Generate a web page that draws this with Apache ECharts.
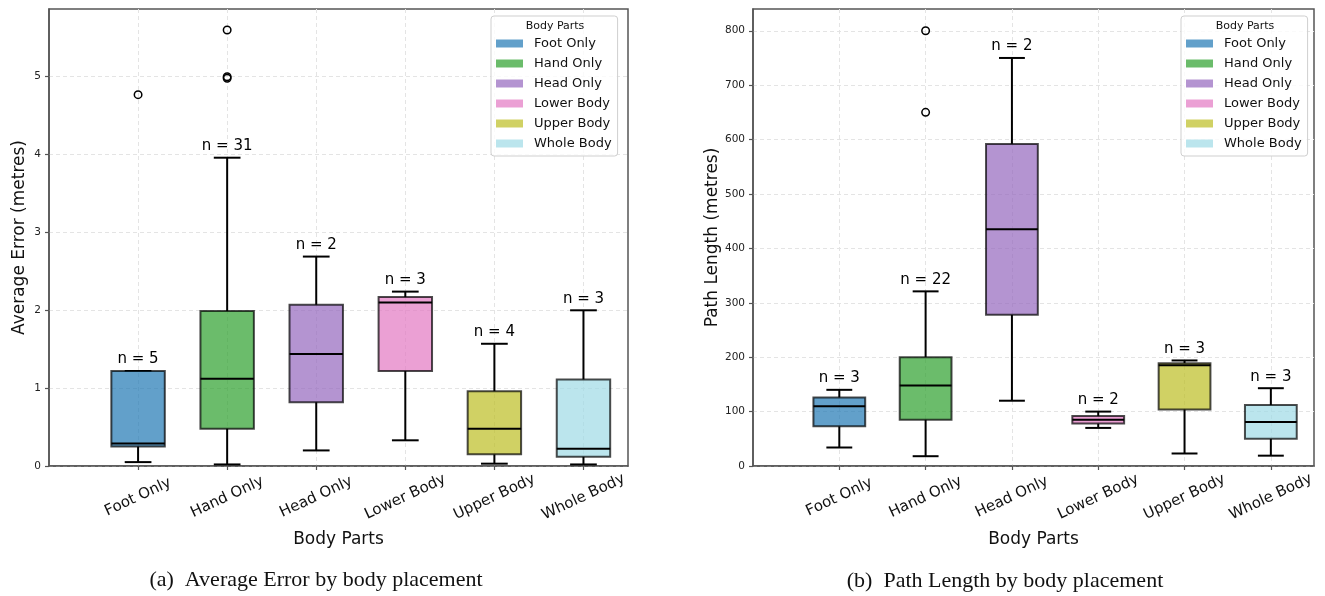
<!DOCTYPE html>
<html><head><meta charset="utf-8">
<script src="https://cdn.jsdelivr.net/npm/echarts@6/dist/echarts.min.js"></script>
<style>html,body{margin:0;padding:0;background:#fff}#c{width:1325px;height:596px}</style>
</head><body><div id="c"></div>
<script>
// ---- data ----
const categories = ['Foot Only', 'Hand Only', 'Head Only', 'Lower Body', 'Upper Body', 'Whole Body'];
const categoryPositions = [1, 2, 3, 4, 5, 6];

// (a) Average Error (metres)
const errMin    = [0.05, 0.02, 0.20, 0.33, 0.03, 0.02];
const errQ1     = [0.25, 0.48, 0.82, 1.22, 0.15, 0.12];
const errMedian = [0.29, 1.12, 1.44, 2.10, 0.48, 0.22];
const errQ3     = [1.22, 1.99, 2.07, 2.17, 0.96, 1.11];
const errMax    = [1.22, 3.96, 2.69, 2.24, 1.57, 2.00];
const errN      = [5, 31, 2, 3, 4, 3];
const errOutlierCategory = ['Foot Only', 'Hand Only', 'Hand Only', 'Hand Only'];
const errOutlierValue    = [4.77, 5.60, 5.00, 4.98];
const errTicks = [0, 1, 2, 3, 4, 5];

// (b) Path Length (metres)
const pathMin    = [34, 18, 120, 70, 23, 19];
const pathQ1     = [73, 85, 278, 78, 104, 50];
const pathMedian = [110, 148, 435, 85, 185, 81];
const pathQ3     = [126, 200, 592, 92, 189, 112];
const pathMax    = [140, 321, 750, 100, 194, 143];
const pathN      = [3, 22, 2, 2, 3, 3];
const pathOutlierCategory = ['Hand Only', 'Hand Only'];
const pathOutlierValue    = [800, 650];
const pathTicks = [0, 100, 200, 300, 400, 500, 600, 700, 800];

// ---- style ----
const palette = ['#1f77b4', '#2ca02c', '#9467bd', '#e377c2', '#bcbd22', '#9edae5'];
const FONT = 'DejaVu Sans';
const FRAME = '#555555';
function rgba(hex, a) {
  const n = parseInt(hex.slice(1), 16);
  return 'rgba(' + (n >> 16 & 255) + ',' + (n >> 8 & 255) + ',' + (n & 255) + ',' + a + ')';
}

function boxRender(params, api) {
  const x = api.value(0);
  const lo = api.coord([x, api.value(1)]);
  const q1 = api.coord([x, api.value(2)]);
  const md = api.coord([x, api.value(3)]);
  const q3 = api.coord([x, api.value(4)]);
  const hi = api.coord([x, api.value(5)]);
  const half = api.coord([x + 0.3, api.value(3)])[0] - md[0];
  const cap = half / 2;
  const cx = md[0];
  const black = { stroke: '#000', lineWidth: 2 };
  return { type: 'group', children: [
    { type: 'line', shape: { x1: cx, y1: q1[1], x2: cx, y2: lo[1] }, style: black },
    { type: 'line', shape: { x1: cx, y1: q3[1], x2: cx, y2: hi[1] }, style: black },
    { type: 'line', shape: { x1: cx - cap, y1: lo[1], x2: cx + cap, y2: lo[1] }, style: black },
    { type: 'line', shape: { x1: cx - cap, y1: hi[1], x2: cx + cap, y2: hi[1] }, style: black },
    { type: 'rect', shape: { x: cx - half, y: q3[1], width: 2 * half, height: q1[1] - q3[1] },
      style: { fill: api.visual('color'), stroke: 'rgba(0,0,0,0.7)', lineWidth: 2 } },
    { type: 'line', shape: { x1: cx - half, y1: md[1], x2: cx + half, y2: md[1] }, style: black }
  ] };
}

function nRender(params, api) {
  const p = api.coord([api.value(0), api.value(1)]);
  return { type: 'text', x: p[0], y: p[1] - 4,
    style: { text: 'n = ' + api.value(2), textAlign: 'center', textVerticalAlign: 'bottom',
      fontSize: 15, fontFamily: FONT, fill: '#000' } };
}

function buildSeries(g, mins, q1s, meds, q3s, maxs, ns, outCat, outVal) {
  const s = [];
  categories.forEach((c, i) => {
    s.push({ type: 'custom', name: c, xAxisIndex: g, yAxisIndex: g, renderItem: boxRender,
      itemStyle: { color: rgba(palette[i], 0.7) }, z: 3,
      encode: { x: 0, y: [1, 2, 3, 4, 5] },
      data: [[categoryPositions[i], mins[i], q1s[i], meds[i], q3s[i], maxs[i]]] });
  });
  s.push({ type: 'custom', xAxisIndex: g, yAxisIndex: g, renderItem: nRender, z: 5,
    encode: { x: 0, y: 1 },
    data: categories.map((c, i) => [categoryPositions[i], maxs[i], ns[i]]) });
  s.push({ type: 'scatter', xAxisIndex: g, yAxisIndex: g, symbol: 'circle', symbolSize: 7.5, z: 6,
    itemStyle: { color: 'rgba(0,0,0,0)', borderColor: '#000', borderWidth: 1.5, opacity: 1 },
    data: outCat.map((c, i) => [categoryPositions[categories.indexOf(c)], outVal[i]]) });
  return s;
}

const gridLine = { show: true, lineStyle: { color: '#e4e4e4', type: [4, 3], width: 1 } };
function xAxis(g) {
  return { type: 'value', gridIndex: g, min: 0, max: 6.5, interval: 1,
    axisLine: { show: true, lineStyle: { color: FRAME, width: 1.5 } },
    axisTick: { show: true, length: 4, customValues: categoryPositions, lineStyle: { color: FRAME, width: 1.2 } },
    axisLabel: { customValues: categoryPositions, formatter: v => categories[v - 1] || '',
      rotate: 25, align: 'center', verticalAlign: 'middle', margin: 31,
      fontSize: 15, fontFamily: FONT, color: '#111' },
    splitLine: gridLine,
    name: 'Body Parts', nameLocation: 'middle', nameGap: 65,
    nameTextStyle: { fontSize: 17, fontFamily: FONT, color: '#111' } };
}
function yAxis(g, max, interval, ticks, name, gap) {
  return { type: 'value', gridIndex: g, min: 0, max: max, interval: interval,
    axisLine: { show: true, lineStyle: { color: FRAME, width: 1.5 } },
    axisTick: { show: true, length: 4, customValues: ticks, lineStyle: { color: FRAME, width: 1.2 } },
    axisLabel: { customValues: ticks, fontSize: 10.5, fontFamily: FONT, color: '#222', margin: 8 },
    splitLine: gridLine,
    name: name, nameLocation: 'middle', nameGap: gap,
    nameTextStyle: { fontSize: 17, fontFamily: FONT, color: '#111' } };
}
function legend(left) {
  return { orient: 'vertical', left: left, top: 16, icon: 'rect', itemWidth: 27, itemHeight: 8, itemGap: 5,
    padding: [20, 6, 5, 5], backgroundColor: 'rgba(255,255,255,0.8)', borderColor: '#cfcfcf',
    borderWidth: 1, borderRadius: 3, selectedMode: false, data: categories,
    itemStyle: { borderWidth: 0 },
    textStyle: { fontFamily: FONT, fontSize: 13, color: '#111', lineHeight: 15, padding: [0, 0, 0, 6] } };
}
function txt(x, y, text, size, family, z) {
  return { type: 'text', x: x, y: y, z: z || 10,
    style: { text: text, fontSize: size, fontFamily: family, fill: '#111', textAlign: 'center', textVerticalAlign: 'middle' } };
}

const chart = echarts.init(document.getElementById('c'), null, { renderer: 'canvas' });
chart.setOption({
  backgroundColor: '#fff',
  animation: false,
  grid: [
    { left: 49, right: 697, top: 9, bottom: 130, show: true, borderColor: FRAME, borderWidth: 1.5 },
    { left: 753, right: 11, top: 9, bottom: 130, show: true, borderColor: FRAME, borderWidth: 1.5 }
  ],
  xAxis: [xAxis(0), xAxis(1)],
  yAxis: [yAxis(0, 5.87, 1, errTicks, 'Average Error (metres)', 21),
          yAxis(1, 840, 100, pathTicks, 'Path Length (metres)', 31)],
  legend: [legend(491), legend(1181)],
  series: buildSeries(0, errMin, errQ1, errMedian, errQ3, errMax, errN, errOutlierCategory, errOutlierValue)
    .concat(buildSeries(1, pathMin, pathQ1, pathMedian, pathQ3, pathMax, pathN, pathOutlierCategory, pathOutlierValue)),
  graphic: [
    txt(555, 26, 'Body Parts', 11, FONT, 20),
    txt(1245, 26, 'Body Parts', 11, FONT, 20),
    txt(316, 580, '(a)  Average Error by body placement', 22, 'Liberation Serif'),
    txt(1005, 581, '(b)  Path Length by body placement', 22, 'Liberation Serif')
  ]
});
</script></body></html>
